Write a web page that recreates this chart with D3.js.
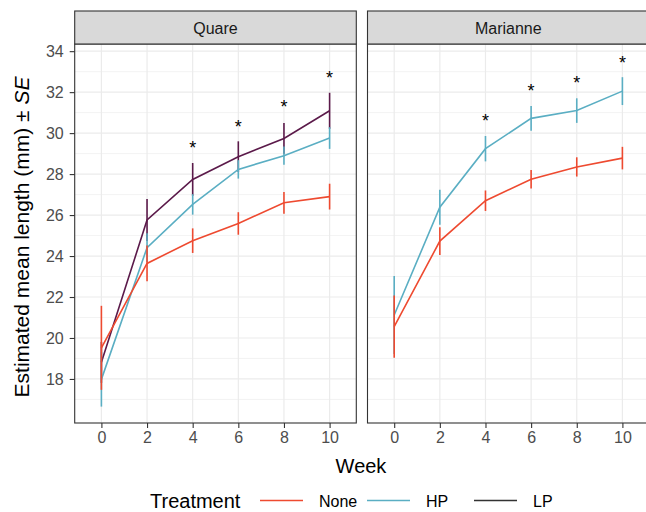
<!DOCTYPE html>
<html>
<head>
<meta charset="utf-8">
<script src="https://cdn.jsdelivr.net/npm/d3@7"></script>
<style>
  body { margin: 0; background: #fff; }
  svg text { font-family: "Liberation Sans", Arial, sans-serif; }
</style>
</head>
<body>
<svg id="chart" width="646" height="512"></svg>
<script>
// values
const weeks = [0, 2, 4, 6, 8, 10];
const treatments = ["None", "HP", "LP"];
const facets = ["Quare", "Marianne"];
const yTicks = [18, 20, 22, 24, 26, 28, 30, 32, 34];
const yMinor = [17, 19, 21, 23, 25, 27, 29, 31, 33];

const quareNone = [19.52, 23.64, 24.75, 25.59, 26.6, 26.9];
const quareNoneSE = [2.05, 0.87, 0.6, 0.55, 0.53, 0.63];
const quareHP = [17.98, 24.41, 26.52, 28.23, 28.9, 29.76];
const quareHPSE = [1.33, 0.7, 0.5, 0.45, 0.45, 0.53];
const quareLP = [18.81, 25.76, 27.74, 28.85, 29.74, 31.09];
const quareLPSE = [1.0, 1.02, 0.8, 0.75, 0.75, 0.88];

const marianneNone = [20.55, 24.73, 26.7, 27.75, 28.35, 28.78];
const marianneNoneSE = [1.52, 0.68, 0.5, 0.45, 0.47, 0.55];
const marianneHP = [21.12, 26.38, 29.24, 30.72, 31.1, 32.05];
const marianneHPSE = [1.9, 0.85, 0.62, 0.6, 0.6, 0.68];

const starWeeks = [4, 6, 8, 10];
const quareStars = [29.45, 30.5, 31.45, 32.9];
const marianneStars = [30.8, 32.26, 32.63, 33.64];

const colors = { None: "#ee4a30", HP: "#5aaec3", LP: "#5b1a4a" };
const legendColors = { None: "#ee4a30", HP: "#5aaec3", LP: "#333333" };

const panelData = {
  Quare: {
    series: [
      { key: "None", mean: quareNone, se: quareNoneSE },
      { key: "HP", mean: quareHP, se: quareHPSE },
      { key: "LP", mean: quareLP, se: quareLPSE }
    ],
    stars: quareStars
  },
  Marianne: {
    series: [
      { key: "None", mean: marianneNone, se: marianneNoneSE },
      { key: "HP", mean: marianneHP, se: marianneHPSE }
    ],
    stars: marianneStars
  }
};

const svg = d3.select("#chart");

const panelTop = 44, panelBottom = 423, stripTop = 11;
const panelLefts = { Quare: 74.7, Marianne: 367.5 };
const panelWidth = 281.6;

const y = d3.scaleLinear().domain([15.85, 34.35]).range([panelBottom, panelTop]);

facets.forEach(facet => {
  const left = panelLefts[facet];
  const x = d3.scaleLinear().domain([-1.17, 11.17]).range([left, left + panelWidth]);
  const g = svg.append("g");

  // grid
  g.selectAll(".minor").data(yMinor).enter().append("line")
    .attr("x1", left).attr("x2", left + panelWidth)
    .attr("y1", d => y(d)).attr("y2", d => y(d))
    .attr("stroke", "#ebebeb").attr("stroke-width", 0.6);
  g.selectAll(".major").data(yTicks).enter().append("line")
    .attr("x1", left).attr("x2", left + panelWidth)
    .attr("y1", d => y(d)).attr("y2", d => y(d))
    .attr("stroke", "#ebebeb").attr("stroke-width", 1.2);
  g.selectAll(".vmajor").data(weeks).enter().append("line")
    .attr("x1", d => x(d)).attr("x2", d => x(d))
    .attr("y1", panelTop).attr("y2", panelBottom)
    .attr("stroke", "#ebebeb").attr("stroke-width", 1.2);

  // series, drawn LP first so None ends on top
  const series = panelData[facet].series.slice().reverse();
  const line = d3.line().x((d, i) => x(weeks[i])).y(d => y(d));
  series.forEach(s => {
    const sg = g.append("g");
    sg.selectAll("line").data(s.mean).enter().append("line")
      .attr("x1", (d, i) => x(weeks[i])).attr("x2", (d, i) => x(weeks[i]))
      .attr("y1", (d, i) => y(d - s.se[i])).attr("y2", (d, i) => y(d + s.se[i]))
      .attr("stroke", colors[s.key]).attr("stroke-width", 1.6);
    sg.append("path").datum(s.mean)
      .attr("d", line)
      .attr("fill", "none")
      .attr("stroke", colors[s.key]).attr("stroke-width", 1.6);
  });

  // significance stars
  g.selectAll(".star").data(panelData[facet].stars).enter().append("text")
    .attr("x", (d, i) => x(starWeeks[i]))
    .attr("y", d => y(d) + 10)
    .attr("text-anchor", "middle")
    .attr("font-size", 18)
    .attr("fill", "#000")
    .text("*");

  // panel border
  g.append("rect")
    .attr("x", left).attr("y", panelTop)
    .attr("width", panelWidth).attr("height", panelBottom - panelTop)
    .attr("fill", "none").attr("stroke", "#333").attr("stroke-width", 1.1);

  // strip
  g.append("rect")
    .attr("x", left).attr("y", stripTop)
    .attr("width", panelWidth).attr("height", panelTop - stripTop)
    .attr("fill", "#d9d9d9").attr("stroke", "#333").attr("stroke-width", 1.1);
  g.append("text")
    .attr("x", left + panelWidth / 2).attr("y", 33.5)
    .attr("text-anchor", "middle")
    .attr("font-size", 16).attr("fill", "#1a1a1a")
    .text(facet);

  // x axis
  const xAxis = g.append("g")
    .attr("transform", `translate(0,${panelBottom})`)
    .call(d3.axisBottom(x).tickValues(weeks).tickSize(5).tickPadding(4));
  xAxis.select(".domain").remove();
  xAxis.selectAll("line").attr("stroke", "#333").attr("stroke-width", 1.1);
  xAxis.selectAll("text").attr("font-size", 16).attr("fill", "#4d4d4d")
    .attr("font-family", "Liberation Sans, Arial, sans-serif");
});

// y axis on left panel
const yAxis = svg.append("g")
  .attr("transform", `translate(${panelLefts.Quare},0)`)
  .call(d3.axisLeft(y).tickValues(yTicks).tickSize(5).tickPadding(6));
yAxis.select(".domain").remove();
yAxis.selectAll("line").attr("stroke", "#333").attr("stroke-width", 1.1);
yAxis.selectAll("text").attr("font-size", 16).attr("fill", "#4d4d4d")
  .attr("font-family", "Liberation Sans, Arial, sans-serif");

// axis titles
const yTitle = svg.append("text")
  .attr("transform", "translate(29,237) rotate(-90)")
  .attr("text-anchor", "middle")
  .attr("font-size", 21).attr("fill", "#000");
yTitle.append("tspan").text("Estimated mean length (mm) \u00b1 ");
yTitle.append("tspan").attr("font-style", "italic").text("SE");

svg.append("text")
  .attr("x", 361).attr("y", 472.5)
  .attr("text-anchor", "middle")
  .attr("font-size", 20).attr("fill", "#000")
  .text("Week");

// legend
const legend = svg.append("g");
legend.append("text")
  .attr("x", 150).attr("y", 507.5)
  .attr("font-size", 20).attr("fill", "#000")
  .text("Treatment");
const legendX = d3.scalePoint().domain(treatments).range([260, 474]);
const items = legend.selectAll(".item").data(treatments).enter().append("g");
items.append("line")
  .attr("x1", d => legendX(d)).attr("x2", d => legendX(d) + 43)
  .attr("y1", 500.5).attr("y2", 500.5)
  .attr("stroke", d => legendColors[d]).attr("stroke-width", 1.6);
items.append("text")
  .attr("x", d => legendX(d) + 59).attr("y", 506.5)
  .attr("font-size", 16).attr("fill", "#000")
  .text(d => d);
</script>
</body>
</html>
